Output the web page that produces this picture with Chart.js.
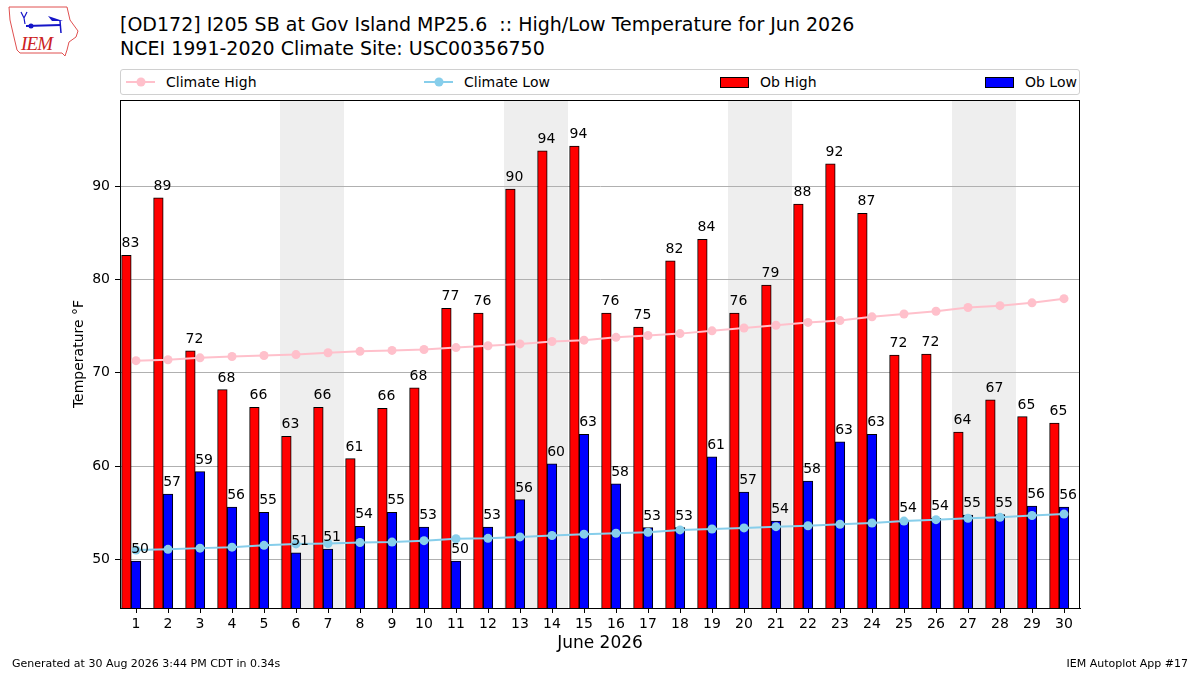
<!DOCTYPE html>
<html>
<head>
<meta charset="utf-8">
<script src="https://cdn.jsdelivr.net/npm/chart.js@4.4.1/dist/chart.umd.min.js"></script>
<style>
  html, body { margin: 0; padding: 0; background: #fff; }
  body { width: 1200px; height: 675px; position: relative; overflow: hidden; font-family: "DejaVu Sans", sans-serif; color: #000; }
  #chart { position: absolute; left: 0; top: 0; }
  .title { position: absolute; left: 120px; font-size: 19px; white-space: pre; line-height: 24px; }
  #legend { position: absolute; left: 120px; top: 69px; width: 958px; height: 24px; border: 1px solid #d0d0d0; border-radius: 3px; background: #fff; }
  .lg-item { position: absolute; top: 0; height: 24px; font-size: 14px; line-height: 24px; white-space: nowrap; }
  .footer { position: absolute; top: 657px; font-size: 11px; white-space: pre; }
</style>
</head>
<body>
<svg style="position:absolute;left:0;top:0" width="90" height="62">
  <polygon points="9,7 67,7 70,20 78,31 76,37 69,42 67,50 65,56 62,53 20,53 17,50 13,33 10,20" fill="none" stroke="#e05050" stroke-width="1"/>
  <line x1="26" y1="26" x2="61" y2="25" stroke="#1515c8" stroke-width="2"/>
  <circle cx="31" cy="26" r="2.5" fill="#1515c8"/>
  <polygon points="48,16 57,19 63,21 52,21" fill="#1515c8"/>
  <line x1="60" y1="21" x2="61" y2="33" stroke="#1515c8" stroke-width="1.5"/>
  <path d="M21,12 L24,18 L27,12 M24,18 L25,24" stroke="#1515c8" stroke-width="1.2" fill="none"/>
  <text x="21" y="50" font-family="Liberation Serif" font-style="italic" font-size="19" fill="#cc2222" textLength="32">IEM</text>
</svg>
<div class="title" style="top:12px">[OD172] I205 SB at Gov Island MP25.6  :: High/Low Temperature for Jun 2026</div>
<div class="title" style="top:36px">NCEI 1991-2020 Climate Site: USC00356750</div>
<div id="legend"></div>
<canvas id="chart" width="1200" height="675"></canvas>
<div class="footer" style="left:12px">Generated at 30 Aug 2026 3:44 PM CDT in 0.34s</div>
<div class="footer" style="right:12px">IEM Autoplot App #17</div>
<script>
const days = [1, 2, 3, 4, 5, 6, 7, 8, 9, 10, 11, 12, 13, 14, 15, 16, 17, 18, 19, 20, 21, 22, 23, 24, 25, 26, 27, 28, 29, 30]
const obHigh = [82.6, 88.75, 72.35, 68.2, 66.3, 63.2, 66.3, 60.8, 66.2, 68.4, 76.9, 76.4, 89.7, 93.8, 94.3, 76.4, 74.9, 82.0, 84.3, 76.4, 79.4, 88.1, 92.4, 87.1, 71.9, 72.0, 63.65, 67.1, 65.3, 64.6]
const obLow = [49.8, 57.0, 59.4, 55.6, 55.05, 50.7, 51.1, 53.55, 55.05, 53.47, 49.8, 53.47, 56.4, 60.25, 63.4, 58.1, 53.4, 53.4, 61.0, 57.2, 54.1, 58.4, 62.6, 63.4, 54.2, 54.4, 54.75, 54.8, 55.7, 55.6]
const climateHigh = [71.3, 71.4, 71.6, 71.75, 71.85, 71.95, 72.15, 72.3, 72.4, 72.5, 72.7, 72.9, 73.1, 73.35, 73.5, 73.8, 74.0, 74.2, 74.5, 74.8, 75.1, 75.4, 75.6, 76.0, 76.3, 76.6, 77.0, 77.2, 77.5, 77.95]
const climateLow = [51.0, 51.07, 51.2, 51.3, 51.5, 51.65, 51.7, 51.8, 51.85, 52.0, 52.2, 52.25, 52.4, 52.55, 52.7, 52.8, 52.9, 53.15, 53.25, 53.37, 53.5, 53.6, 53.76, 53.9, 54.1, 54.25, 54.4, 54.5, 54.7, 54.85]
const weekendDays = [6, 7, 13, 14, 20, 21, 27, 28]
const yTicks = [50, 60, 70, 80, 90]

const series = [
    { label: 'Climate High', color: 'pink', kind: 'line', left: 5 },
    { label: 'Climate Low', color: 'skyblue', kind: 'line', left: 303 },
    { label: 'Ob High', color: 'red', kind: 'bar', left: 599 },
    { label: 'Ob Low', color: 'blue', kind: 'bar', left: 864 }
]

// legend, laid out like the matplotlib one (4 columns spread over the box)
const legend = document.getElementById('legend')
series.forEach(s => {
    const item = document.createElement('div')
    item.className = 'lg-item'
    item.style.left = s.left + 'px'
    let marker
    if (s.kind === 'line') {
        marker = `<svg width="30" height="24" style="vertical-align:top"><line x1="0" y1="12" x2="29" y2="12" stroke="${s.color}" stroke-width="2"/><circle cx="15" cy="12" r="4.5" fill="${s.color}"/></svg>`
    } else {
        marker = `<svg width="30" height="24" style="vertical-align:top"><rect x="0.5" y="7.5" width="28" height="10" fill="${s.color}" stroke="#000" stroke-width="1"/></svg>`
    }
    item.innerHTML = marker + `<span style="margin-left:${s.kind === 'line' ? 10 : 10}px">${s.label}</span>`
    legend.appendChild(item)
})

Chart.defaults.font.family = "'DejaVu Sans', sans-serif"
Chart.defaults.color = '#000'

const weekendShade = {
    id: 'weekendShade',
    beforeDraw(chart) {
        const ctx = chart.ctx
        const xs = chart.scales.x
        const area = chart.chartArea
        ctx.save()
        ctx.fillStyle = '#eeeeee'
        weekendDays.forEach(d => {
            const x0 = xs.getPixelForValue(d - 0.5)
            const x1 = xs.getPixelForValue(d + 0.5)
            ctx.fillRect(x0, area.top, x1 - x0, area.bottom - area.top)
        })
        ctx.restore()
    }
}

const barLabels = {
    id: 'barLabels',
    afterDatasetsDraw(chart) {
        const ctx = chart.ctx
        const area = chart.chartArea
        ctx.save()
        ctx.strokeStyle = '#000'
        ctx.lineWidth = 1
        ctx.strokeRect(Math.round(area.left) + 0.5, Math.round(area.top) + 0.5, Math.round(area.right - area.left) - 1, Math.round(area.bottom - area.top))
        ctx.font = "14px 'DejaVu Sans'"
        ctx.fillStyle = '#000'
        ctx.textAlign = 'left'
        ctx.textBaseline = 'alphabetic'
        chart.data.datasets.forEach((ds, i) => {
            if (ds.type !== 'bar') return
            const meta = chart.getDatasetMeta(i)
            meta.data.forEach((bar, j) => {
                const v = ds.data[j].y
                ctx.fillText(String(Math.round(v)), bar.x - bar.width / 2, bar.y - 8)
            })
        })
        ctx.restore()
    }
}

new Chart(document.getElementById('chart').getContext('2d'), {
    type: 'bar',
    data: {
        datasets: [{
            type: 'line',
            label: 'Climate High',
            data: days.map((d, i) => ({ x: d, y: climateHigh[i] })),
            borderColor: 'pink',
            backgroundColor: 'pink',
            borderWidth: 2,
            pointRadius: 4.5,
            pointBorderWidth: 0,
            order: 0
        }, {
            type: 'line',
            label: 'Climate Low',
            data: days.map((d, i) => ({ x: d, y: climateLow[i] })),
            borderColor: 'skyblue',
            backgroundColor: 'skyblue',
            borderWidth: 2,
            pointRadius: 4.5,
            pointBorderWidth: 0,
            order: 0
        }, {
            type: 'bar',
            label: 'Ob High',
            data: days.map((d, i) => ({ x: d - 0.3, y: obHigh[i] })),
            backgroundColor: 'red',
            borderColor: '#000',
            borderWidth: 1,
            grouped: false,
            barPercentage: 1,
            categoryPercentage: 1,
            order: 2
        }, {
            type: 'bar',
            label: 'Ob Low',
            data: days.map((d, i) => ({ x: d, y: obLow[i] })),
            backgroundColor: 'blue',
            borderColor: '#000',
            borderWidth: 1,
            grouped: false,
            barPercentage: 1,
            categoryPercentage: 1,
            order: 1
        }]
    },
    options: {
        responsive: false,
        animation: false,
        layout: { padding: { left: 0, right: 120, top: 100, bottom: 0 } },
        plugins: {
            legend: { display: false },
            tooltip: { enabled: false }
        },
        scales: {
            x: {
                type: 'linear',
                min: 0.5,
                max: 30.5,
                offset: false,
                afterBuildTicks: scale => { scale.ticks = days.map(v => ({ value: v })) },
                afterFit: scale => { scale.height = 67 },
                ticks: { autoSkip: false, maxRotation: 0, padding: 3, font: { size: 14 }, color: '#000' },
                grid: { offset: false, drawOnChartArea: false, tickLength: 5, tickColor: '#000' },
                border: { color: '#000' },
                title: { display: true, text: 'June 2026', font: { size: 17 }, color: '#000', padding: { top: 0, bottom: 21 } }
            },
            y: {
                min: 44.78,
                max: 99.25,
                afterBuildTicks: scale => { scale.ticks = yTicks.map(v => ({ value: v })) },
                afterFit: scale => { scale.width = 120 },
                ticks: { padding: 5, font: { size: 14 }, color: '#000' },
                grid: { color: '#b0b0b0', lineWidth: 1, tickLength: 5, tickColor: '#000' },
                border: { color: '#000' },
                title: { display: true, text: 'Temperature °F', font: { size: 14 }, color: '#000', padding: { top: 70.6, bottom: 0 } }
            }
        }
    },
    plugins: [weekendShade, barLabels]
})
</script>
</body>
</html>
